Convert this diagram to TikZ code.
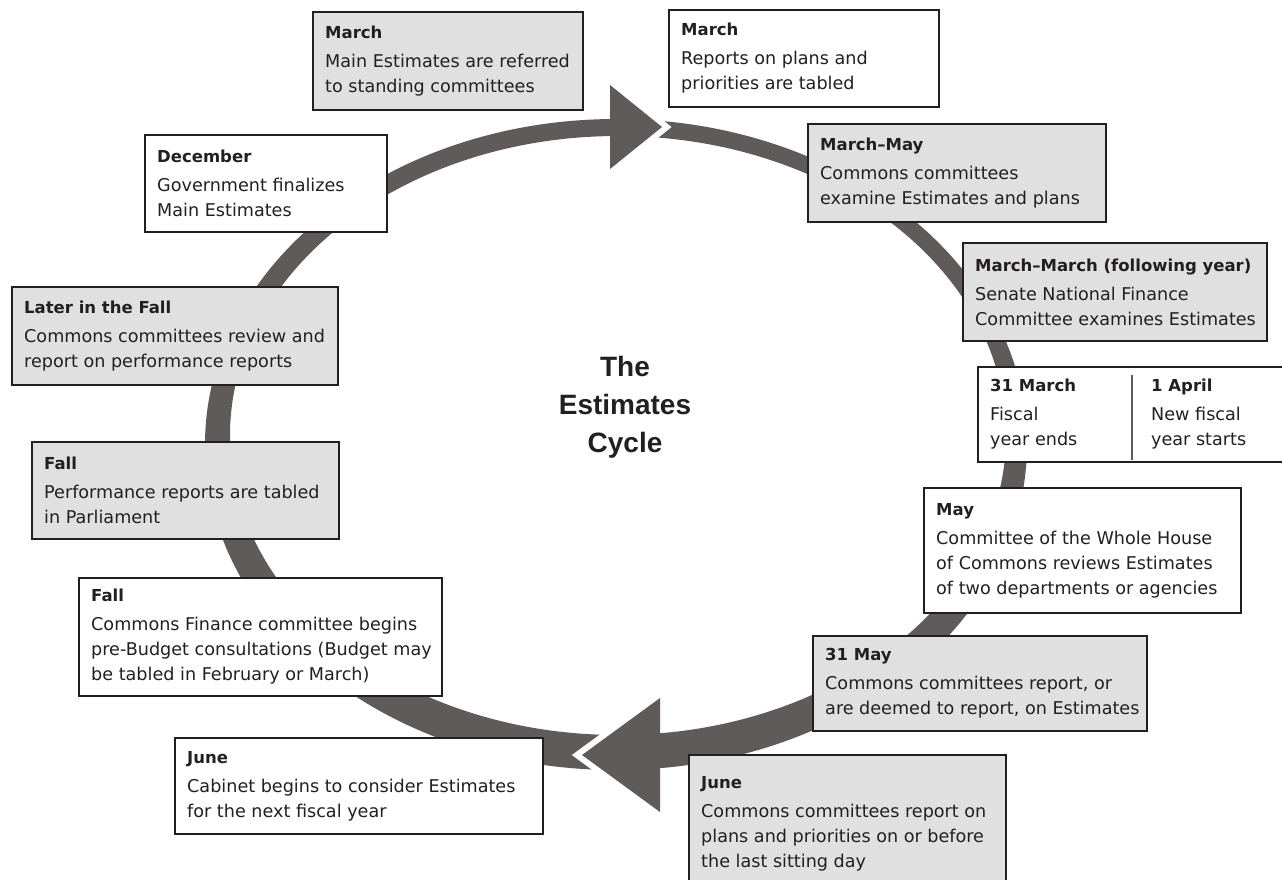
\documentclass[tikz,border=0pt]{standalone}
\usepackage{fontspec}
\setmainfont{DejaVu Sans}
\newfontfamily\titlefont{Liberation Sans}
\definecolor{ringc}{RGB}{96,91,91}
\definecolor{boxgray}{RGB}{224,224,224}
\definecolor{ink}{RGB}{35,31,32}
\newcommand\hd[1]{{\fontsize{16.5}{25}\selectfont\bfseries #1}\\[4pt]}
\newcommand\ebox[7]{%
  \node[evbox, fill=#2, minimum width={#5-#3}, minimum height={#6-#4}] (#1) at (#3,#4) {};
  \node[txt] (#1t) at ([xshift=12pt]#1.west) {#7};
}
\begin{document}
\begin{tikzpicture}[x=1pt,y=-1pt,
  evbox/.style={draw=ink, line width=1.3pt, inner sep=0pt, outer sep=0pt, anchor=north west},
  txt/.style={text=ink, align=left, inner sep=0pt, anchor=west, font=\fontsize{17.6}{25}\selectfont},
  ttl/.style={text=ink, align=center, inner sep=0pt, font=\titlefont\bfseries\fontsize{28}{38}\selectfont},
  ringfill/.style={fill=ringc},
  gapline/.style={draw=white, line width=12pt, line join=miter}
]
\useasboundingbox (0,0) rectangle (1282,879);
\clip (0,0) rectangle (1282,879);

% ring band
\fill[ringfill, even odd rule] (616,444.5) ellipse [x radius=411pt, y radius=325.5pt]
      (618,435.5) ellipse [x radius=388pt, y radius=299.5pt];

% top arrowhead (pointing right)
\coordinate (ta1) at (610,85);
\coordinate (tat) at (662,127);
\coordinate (ta2) at (610,169);
\draw[gapline] (ta1) -- (tat) -- (ta2);
\fill[ringfill] (ta1) -- (tat) -- (ta2) -- cycle;

% bottom arrowhead (pointing left)
\coordinate (ba1) at (660,698);
\coordinate (bat) at (582,755);
\coordinate (ba2) at (660,812);
\draw[gapline] (ba1) -- (bat) -- (ba2);
\fill[ringfill] (ba1) -- (bat) -- (ba2) -- cycle;

% boxes
\ebox{b1}{boxgray}{313}{12}{583}{110}{\hd{March}Main Estimates are referred\\to standing committees}
\ebox{b2}{white}{669}{10}{939}{107}{\hd{March}Reports on plans and\\priorities are tabled}
\ebox{b3}{boxgray}{808}{124}{1106}{222}{\hd{March--May}Commons committees\\examine Estimates and plans}
\ebox{b4}{boxgray}{963}{243}{1267}{341}{\hd{March--March (following year)}Senate National Finance\\Committee examines Estimates}
\ebox{b6}{white}{924}{488}{1241}{613}{\hd{May}Committee of the Whole House\\of Commons reviews Estimates\\of two departments or agencies}
\ebox{b7}{boxgray}{813}{636}{1147}{731}{\hd{31 May}Commons committees report, or\\are deemed to report, on Estimates}
\ebox{b8}{boxgray}{689}{755}{1006}{893}{\hd{June}Commons committees report on\\plans and priorities on or before\\the last sitting day}
\ebox{b9}{white}{175}{738}{543}{834}{\hd{June}Cabinet begins to consider Estimates\\for the next fiscal year}
\ebox{b10}{white}{79}{578}{442}{696}{\hd{Fall}Commons Finance committee begins\\pre-Budget consultations (Budget may\\be tabled in February or March)}
\ebox{b11}{boxgray}{32}{442}{339}{539}{\hd{Fall}Performance reports are tabled\\in Parliament}
\ebox{b12}{boxgray}{12}{287}{338}{385}{\hd{Later in the Fall}Commons committees review and\\report on performance reports}
\ebox{b13}{white}{145}{135}{387}{232}{\hd{December}Government finalizes\\Main Estimates}

% 31 March / 1 April split box
\node[evbox, fill=white, minimum width=312, minimum height=95] (b5) at (978,367) {};
\coordinate (dtop) at (1132,375);
\coordinate (dbot) at (1132,460);
\draw[ringc, line width=1.5pt] (dtop) -- (dbot);
\node[txt] (b5l) at ([xshift=12pt]b5.west) {\hd{31 March}Fiscal\\year ends};
\node[txt, anchor=west] (b5r) at (1151,414.5) {\hd{1 April}New fiscal\\year starts};

% centre title
\node[ttl] (title) at (625,407) {The\\Estimates\\Cycle};
\end{tikzpicture}
\end{document}
